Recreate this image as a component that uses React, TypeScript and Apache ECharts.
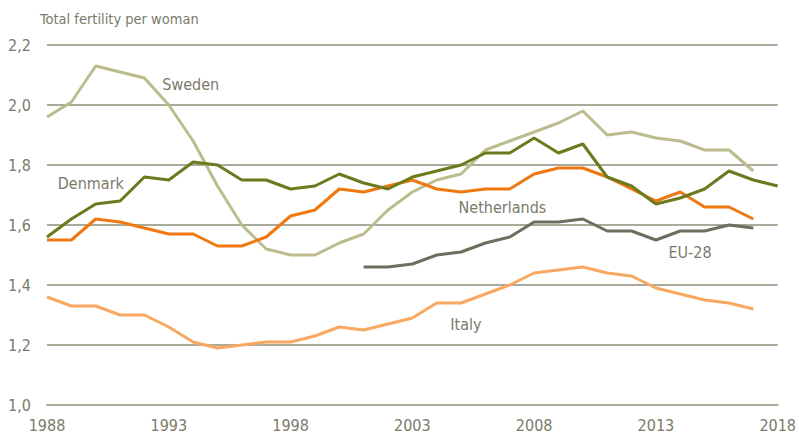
import React, { useEffect, useRef } from "react";
import * as echarts from "echarts";

const years: number[] = [];
for (let y = 1988; y <= 2018; y++) years.push(y);

const sweden = [1.96, 2.01, 2.13, 2.11, 2.09, 2.0, 1.88, 1.73, 1.6, 1.52, 1.5, 1.5, 1.54, 1.57, 1.65, 1.71, 1.75, 1.77, 1.85, 1.88, 1.91, 1.94, 1.98, 1.9, 1.91, 1.89, 1.88, 1.85, 1.85, 1.78, null];
const denmark = [1.56, 1.62, 1.67, 1.68, 1.76, 1.75, 1.81, 1.8, 1.75, 1.75, 1.72, 1.73, 1.77, 1.74, 1.72, 1.76, 1.78, 1.8, 1.84, 1.84, 1.89, 1.84, 1.87, 1.76, 1.73, 1.67, 1.69, 1.72, 1.78, 1.75, 1.73];
const netherlands = [1.55, 1.55, 1.62, 1.61, 1.59, 1.57, 1.57, 1.53, 1.53, 1.56, 1.63, 1.65, 1.72, 1.71, 1.73, 1.75, 1.72, 1.71, 1.72, 1.72, 1.77, 1.79, 1.79, 1.76, 1.72, 1.68, 1.71, 1.66, 1.66, 1.62, null];
const eu28 = [null, null, null, null, null, null, null, null, null, null, null, null, null, 1.46, 1.46, 1.47, 1.5, 1.51, 1.54, 1.56, 1.61, 1.61, 1.62, 1.58, 1.58, 1.55, 1.58, 1.58, 1.6, 1.59, null];
const italy = [1.36, 1.33, 1.33, 1.3, 1.3, 1.26, 1.21, 1.19, 1.2, 1.21, 1.21, 1.23, 1.26, 1.25, 1.27, 1.29, 1.34, 1.34, 1.37, 1.4, 1.44, 1.45, 1.46, 1.44, 1.43, 1.39, 1.37, 1.35, 1.34, 1.32, null];

// label anchor positions [year, value]
const labelPos: Record<string, [number, number]> = {
  Sweden: [1993.9, 2.067],
  Denmark: [1989.8, 1.74],
  Netherlands: [2006.7, 1.66],
  "EU-28": [2014.4, 1.507],
  Italy: [2005.2, 1.267],
};

const FONT = "'Liberation Sans Narrow', 'Arial Narrow', 'DejaVu Sans Condensed', sans-serif";
const TEXT = "#7a7a6a";

export default function App() {
  const ref = useRef<HTMLDivElement>(null);
  useEffect(() => {
    if (!ref.current) return;
    const chart = echarts.init(ref.current, undefined, { renderer: "svg" });
    const mk = (name: string, vals: (number | null)[], color: string) => ({
      name,
      type: "line",
      data: years.map((y, i) => [y, vals[i]]),
      connectNulls: false,
      showSymbol: false,
      symbol: "none",
      lineStyle: { color, width: 3 },
      itemStyle: { color },
      markPoint: {
        symbol: "circle",
        symbolSize: 0,
        data: [{ coord: labelPos[name], value: name }],
        label: {
          show: true,
          position: "inside",
          formatter: name,
          color: TEXT,
          fontFamily: FONT,
          fontSize: 16,
        },
      },
    });
    chart.setOption({
      animation: false,
      textStyle: { fontFamily: FONT },
      grid: { left: 47, right: 20, top: 45, bottom: 33, containLabel: false },
      title: {
        text: "Total fertility per woman",
        left: 40,
        top: 11,
        padding: 0,
        textStyle: { fontFamily: FONT, fontSize: 14.5, fontWeight: "normal", color: TEXT },
      },
      xAxis: {
        type: "value",
        min: 1988,
        max: 2018,
        interval: 1,
        axisLine: { show: true, lineStyle: { color: "#aaaa9a", width: 2 } },
        axisTick: { show: false },
        splitLine: { show: false },
        axisLabel: {
          margin: 12,
          color: TEXT,
          fontFamily: FONT,
          fontSize: 16,
          formatter: (v: number) => ((v - 1988) % 5 === 0 ? String(v) : ""),
        },
      },
      yAxis: {
        type: "value",
        min: 1.0,
        max: 2.2,
        interval: 0.2,
        axisLine: { show: false },
        axisTick: { show: false },
        splitLine: { lineStyle: { color: "#aaaa9a", width: 2 } },
        axisLabel: {
          margin: 16,
          color: TEXT,
          fontFamily: FONT,
          fontSize: 16,
          formatter: (v: number) => v.toFixed(1).replace(".", ","),
        },
      },
      series: [
        mk("Sweden", sweden, "#bcbc8e"),
        mk("Italy", italy, "#f8a860"),
        mk("EU-28", eu28, "#6e6e5e"),
        mk("Netherlands", netherlands, "#f07810"),
        mk("Denmark", denmark, "#6b7a1c"),
      ],
    });
    return () => chart.dispose();
  }, []);
  return <div ref={ref} style={{ width: 799, height: 438, position: "absolute", left: 0, top: 0 }} />;
}
